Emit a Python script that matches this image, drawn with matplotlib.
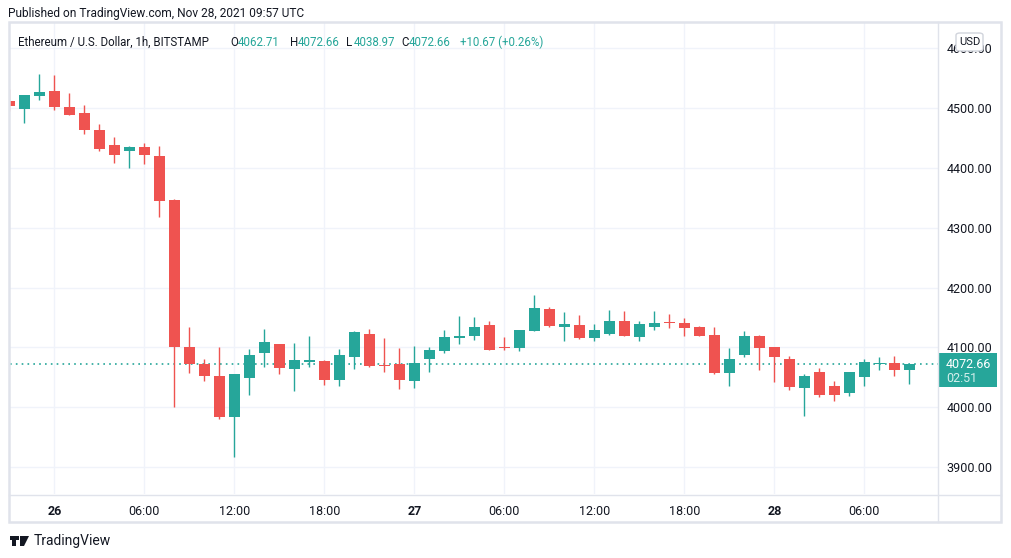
import matplotlib
matplotlib.use("Agg")
import matplotlib.pyplot as plt
from matplotlib.patches import Rectangle, FancyBboxPatch
from matplotlib.lines import Line2D
import pandas as pd

# hourly ETH/USD candles, Nov 25 21:00 -> Nov 28 09:00 UTC
start = "2021-11-25 21:00"
opens = [4512, 4499, 4521, 4529, 4502, 4492, 4464, 4439, 4429, 4435, 4420, 4347,
         4101, 4073, 4053, 3984, 4049, 4091, 4106, 4064, 4076, 4077, 4046, 4084,
         4123, 4071, 4072, 4044, 4081, 4094, 4116, 4119, 4138, 4101, 4099, 4128,
         4164, 4134, 4138, 4116, 4123, 4144, 4118, 4134, 4143, 4141, 4134, 4121,
         4057, 4088, 4119, 4101, 4081, 4032, 4059, 4036, 4024, 4051, 4073, 4074, 4062.71]
highs = [4532, 4523, 4557, 4556, 4526, 4506, 4474, 4452, 4437, 4442, 4437, 4348,
         4134, 4081, 4101, 4056, 4097, 4131, 4106, 4107, 4119, 4079, 4097, 4128,
         4131, 4116, 4099, 4102, 4101, 4129, 4153, 4151, 4144, 4118, 4129, 4188,
         4168, 4159, 4154, 4139, 4163, 4161, 4144, 4161, 4156, 4149, 4136, 4134,
         4099, 4128, 4121, 4101, 4086, 4056, 4066, 4044, 4059, 4081, 4084, 4086, 4072.66]
lows = [4496, 4476, 4514, 4497, 4489, 4457, 4429, 4408, 4400, 4407, 4318, 4001,
        4057, 4044, 3980, 3917, 4021, 4068, 4056, 4027, 4068, 4037, 4036, 4064,
        4067, 4059, 4031, 4032, 4059, 4091, 4106, 4112, 4096, 4096, 4094, 4128,
        4134, 4111, 4114, 4111, 4121, 4119, 4111, 4129, 4133, 4119, 4119, 4056,
        4036, 4084, 4062, 4042, 4029, 3986, 4017, 4011, 4019, 4036, 4062, 4052, 4038.97]
closes = [4503, 4522, 4527, 4502, 4489, 4464, 4432, 4422, 4436, 4422, 4345, 4100,
          4073, 4053, 3984, 4056, 4088, 4109, 4066, 4079, 4079, 4046, 4088, 4126,
          4069, 4069, 4046, 4074, 4096, 4118, 4119, 4134, 4096, 4099, 4129, 4166,
          4136, 4139, 4116, 4129, 4144, 4119, 4139, 4141, 4141, 4133, 4119, 4057,
          4081, 4119, 4099, 4084, 4034, 4052, 4021, 4021, 4059, 4076, 4074.5, 4062.71, 4072.66]

price_ticks = [3900, 4000, 4100, 4200, 4300, 4400, 4500, 4600]
time_ticks = ["2021-11-26 00:00", "2021-11-26 06:00", "2021-11-26 12:00", "2021-11-26 18:00",
              "2021-11-27 00:00", "2021-11-27 06:00", "2021-11-27 12:00", "2021-11-27 18:00",
              "2021-11-28 00:00", "2021-11-28 06:00"]
time_labels = ["26", "06:00", "12:00", "18:00", "27", "06:00", "12:00", "18:00", "28", "06:00"]
last_price = 4072.66
ohlc_text = ["4062.71", "4072.66", "4038.97", "4072.66"]
change_text = "+10.67 (+0.26%)"

UP = "#26a69a"
DOWN = "#ef5350"
GRID = "#f0f3fa"
BORDER = "#e0e3eb"
TXT = "#131722"

plt.rcParams["font.family"] = ["Roboto", "DejaVu Sans"]

W, H = 1012, 558
fig = plt.figure(figsize=(W / 100, H / 100), dpi=100)
fig.patch.set_facecolor("white")


def fx(x):
    return x / W


def fy(y):
    return 1 - y / H


# plot area in pixels: x 10..938, y 22..494
ax = fig.add_axes([fx(10), fy(494), fx(938) - fx(10), fy(22) - fy(494)])

ref = pd.Timestamp("2021-11-26 00:00")
times = pd.date_range(start, periods=len(opens), freq="h")
xs = [(t - ref) / pd.Timedelta(hours=1) for t in times]
tick_x = [(pd.Timestamp(t) - ref) / pd.Timedelta(hours=1) for t in time_ticks]

for x, o, h, l, c in zip(xs, opens, highs, lows, closes):
    col = UP if c >= o else DOWN
    ax.plot([x, x], [l, h], color=col, lw=1.0, solid_capstyle="butt", zorder=3)
    body = max(abs(c - o), 1.2)
    ax.add_patch(Rectangle((x - 0.37, min(o, c)), 0.74, body, facecolor=col,
                           edgecolor="none", zorder=4))

ax.axhline(last_price, color=UP, lw=1.2, ls=(0, (1, 2.5)), zorder=2)

ax.set_xlim(-2.95, 58.91)
ax.set_ylim(3855, 4644.3)

ax.set_yticks(price_ticks)
ax.set_yticklabels([f"{p:.2f}" for p in price_ticks])
ax.yaxis.tick_right()
ax.set_xticks(tick_x)
ax.set_xticklabels(time_labels)
for lab, txt in zip(ax.get_xticklabels(), time_labels):
    if ":" not in txt:
        lab.set_fontweight("bold")
ax.tick_params(axis="both", length=0, labelsize=9, colors=TXT)
ax.tick_params(axis="y", pad=6)
ax.tick_params(axis="x", pad=8)
ax.grid(True, color=GRID, lw=1.0, zorder=0)
ax.set_axisbelow(True)
for s in ax.spines.values():
    s.set_visible(False)

# frame lines
fig.add_artist(Rectangle((fx(9), fy(522)), fx(1001) - fx(9), fy(22) - fy(522),
                         transform=fig.transFigure, fill=False, edgecolor=BORDER, lw=1.8))
fig.add_artist(Line2D([fx(938.5), fx(938.5)], [fy(522), fy(22)], transform=fig.transFigure,
                      color=BORDER, lw=1.0))
fig.add_artist(Line2D([fx(9), fx(1001)], [fy(495), fy(495)], transform=fig.transFigure,
                      color=BORDER, lw=1.0))

# last price label
fig.add_artist(Rectangle((fx(938), fy(387)), fx(997) - fx(938), fy(353) - fy(387),
                         transform=fig.transFigure, facecolor=UP, edgecolor="none"))
fig.text(fx(946), fy(364), f"{last_price:.2f}", color="white", fontsize=9, va="center")
fig.text(fx(946), fy(378), "02:51", color="#d4efec", fontsize=9, va="center")

# USD badge (sits over the 4600 label like in the original)
fig.add_artist(FancyBboxPatch((fx(956), fy(51)), fx(983) - fx(956), fy(33) - fy(51),
                              boxstyle="round,pad=0,rounding_size=0.004",
                              transform=fig.transFigure, facecolor="white",
                              edgecolor="#d1d4dc", lw=1.0, zorder=5))
fig.text(fx(969.5), fy(42), "USD", color=TXT, fontsize=8, ha="center", va="center", zorder=6)

# header
fig.text(fx(8), fy(14), "Published on TradingView.com, Nov 28, 2021 09:57 UTC",
         color=TXT, fontsize=8.6, va="center")

# legend line
fs = 8.3
fig.text(fx(18), fy(42), "Ethereum / U.S. Dollar, 1h, BITSTAMP", color=TXT, fontsize=fs, va="center")
for key, val, kx in zip("OHLC", ohlc_text, [230, 290, 346, 401]):
    fig.text(fx(kx), fy(42), key, color=TXT, fontsize=fs, va="center")
    fig.text(fx(kx + 8), fy(42), val, color=UP, fontsize=fs, va="center")
fig.text(fx(460), fy(42), change_text, color=UP, fontsize=fs, va="center")

# footer logo + name
fig.add_artist(Rectangle((fx(12), fy(546)), fx(16) - fx(12), fy(536) - fy(546),
                         transform=fig.transFigure, facecolor=TXT, edgecolor="none"))
fig.add_artist(Rectangle((fx(10), fy(540)), fx(19) - fx(10), fy(536) - fy(540),
                         transform=fig.transFigure, facecolor=TXT, edgecolor="none"))
fig.add_artist(plt.Polygon([(fx(20), fy(536)), (fx(29), fy(536)), (fx(24), fy(546)), (fx(20), fy(546))],
                           closed=True, transform=fig.transFigure, facecolor=TXT, edgecolor="none"))
fig.text(fx(34), fy(541), "TradingView", color=TXT, fontsize=10, va="center")

fig.savefig("out.png", dpi=100, facecolor="white")
